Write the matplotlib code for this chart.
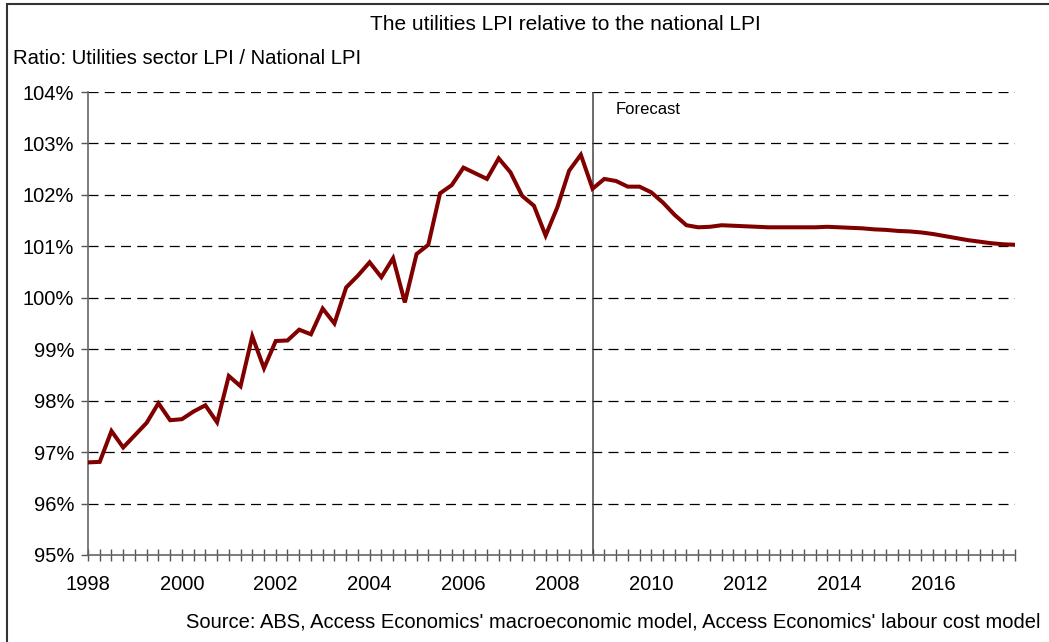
import matplotlib
matplotlib.use('Agg')
import matplotlib.pyplot as plt
from matplotlib.patches import Rectangle

plt.rcParams['font.family'] = ['Liberation Sans', 'DejaVu Sans']

# Kwartały 1998Q1 - 2017Q4
years = list(range(1998, 2018))
quarters = [f'{y}Q{q}' for y in years for q in range(1, 5)]

# Stosunek LPI sektora utilities do krajowego LPI (%)
ratio = [
    96.80, 96.81, 97.41, 97.09, 97.33, 97.57, 97.95, 97.62,
    97.64, 97.79, 97.91, 97.58, 98.48, 98.28, 99.25, 98.63,
    99.16, 99.17, 99.38, 99.29, 99.79, 99.50, 100.20, 100.43,
    100.69, 100.40, 100.77, 99.91, 100.85, 101.03, 102.03, 102.19,
    102.53, 102.42, 102.31, 102.71, 102.44, 101.98, 101.79, 101.21,
    101.76, 102.47, 102.78, 102.12, 102.31, 102.27, 102.16, 102.16,
    102.05, 101.85, 101.61, 101.41, 101.37, 101.38, 101.41, 101.40,
    101.39, 101.38, 101.37, 101.37, 101.37, 101.37, 101.37, 101.38,
    101.37, 101.36, 101.35, 101.33, 101.32, 101.30, 101.29, 101.27,
    101.24, 101.20, 101.16, 101.12, 101.09, 101.06, 101.04, 101.03,
]
forecast_start = '2008Q4'

y_ticks = [95, 96, 97, 98, 99, 100, 101, 102, 103, 104]

fig = plt.figure(figsize=(10.49, 6.42), dpi=100)
ax = fig.add_axes([88 / 1049, 1 - 555 / 642, (1015 - 88) / 1049, (555 - 92) / 642])

x = list(range(len(quarters)))
ax.plot(x, ratio, color='#800000', lw=2.9, solid_joinstyle='miter', zorder=3)

# linia prognozy
fx = quarters.index(forecast_start)
ax.axvline(fx, color='#444444', lw=1.1, zorder=2)
ax.text(fx + 2.0, 103.66, 'Forecast', fontsize=12, va='center', ha='left')

ax.set_xlim(0, len(quarters) - 1)
ax.set_ylim(95, 104)
ax.set_yticks(y_ticks)
ax.set_yticklabels([f'{v}%' for v in y_ticks], fontsize=14.5)
ax.set_xticks(x)
ax.set_xticklabels([quarters[i][:4] if i % 8 == 0 else '' for i in x], fontsize=14.5)

for v in y_ticks[1:]:
    ax.axhline(v, color='black', lw=0.9, dashes=(8, 5), zorder=1)

for s in ['top', 'right']:
    ax.spines[s].set_visible(False)
for s in ['left', 'bottom']:
    ax.spines[s].set_color('#666666')
    ax.spines[s].set_linewidth(1.2)
ax.tick_params(axis='x', direction='inout', length=9, width=1, color='#555555', pad=10)
ax.tick_params(axis='y', direction='out', length=5, width=1, color='#555555', pad=5)

fig.text(565 / 1049, 1 - 25 / 642, 'The utilities LPI relative to the national LPI',
         ha='center', va='center', fontsize=15)
fig.text(13 / 1049, 1 - 58 / 642, 'Ratio: Utilities sector LPI / National LPI',
         ha='left', va='center', fontsize=14.6)
fig.text(1040 / 1049, 1 - 622 / 642,
         "Source: ABS, Access Economics' macroeconomic model, Access Economics' labour cost model",
         ha='right', va='center', fontsize=14.5)

# ramka wokół wykresu
fig.patches.append(Rectangle((6.5 / 1049, -0.1), 1.2, 1.1 - 3.5 / 642,
                             transform=fig.transFigure, fill=False,
                             edgecolor='#333333', lw=1.5))

fig.savefig('out.png', dpi=100)
